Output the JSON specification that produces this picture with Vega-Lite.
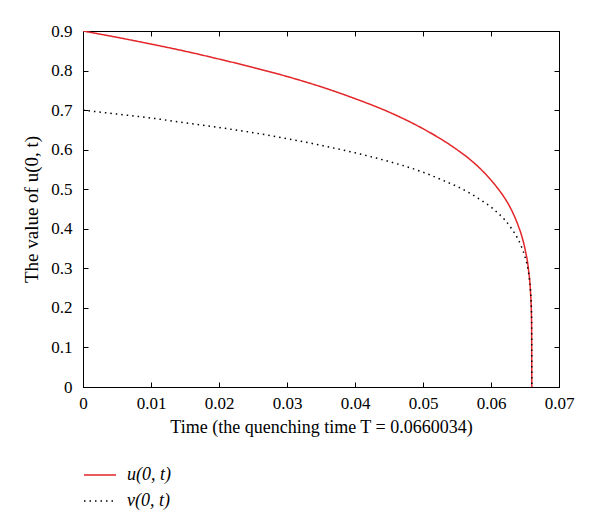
{
  "$schema": "https://vega.github.io/schema/vega-lite/v6.json",
  "width": 476,
  "height": 356,
  "autosize": "none",
  "padding": {"left": 83, "top": 31, "right": 41, "bottom": 141},
  "background": "white",
  "config": {
    "font": "Liberation Serif",
    "view": {"stroke": "black", "strokeWidth": 1},
    "axis": {"grid": false, "labelFont": "Liberation Serif", "titleFont": "Liberation Serif", "labelFontSize": 17, "titleFontSize": 18, "titleFontWeight": "normal", "labelColor": "black", "titleColor": "black", "tickColor": "black", "domainColor": "black", "tickSize": -5, "tickWidth": 1, "labelFlush": false, "labelOverlap": false}
  },
  "data": {"values": [
    {"t": 0, "value": 0.9, "series": "u(0, t)"},
    {"t": 0.005, "value": 0.884, "series": "u(0, t)"},
    {"t": 0.01, "value": 0.867, "series": "u(0, t)"},
    {"t": 0.015, "value": 0.849, "series": "u(0, t)"},
    {"t": 0.02, "value": 0.829, "series": "u(0, t)"},
    {"t": 0.025, "value": 0.808, "series": "u(0, t)"},
    {"t": 0.03, "value": 0.785, "series": "u(0, t)"},
    {"t": 0.035, "value": 0.759, "series": "u(0, t)"},
    {"t": 0.04, "value": 0.729, "series": "u(0, t)"},
    {"t": 0.045, "value": 0.695, "series": "u(0, t)"},
    {"t": 0.05, "value": 0.653, "series": "u(0, t)"},
    {"t": 0.053, "value": 0.623, "series": "u(0, t)"},
    {"t": 0.055, "value": 0.6, "series": "u(0, t)"},
    {"t": 0.057, "value": 0.574, "series": "u(0, t)"},
    {"t": 0.059, "value": 0.542, "series": "u(0, t)"},
    {"t": 0.06, "value": 0.523, "series": "u(0, t)"},
    {"t": 0.061, "value": 0.502, "series": "u(0, t)"},
    {"t": 0.062, "value": 0.478, "series": "u(0, t)"},
    {"t": 0.063, "value": 0.448, "series": "u(0, t)"},
    {"t": 0.064, "value": 0.408, "series": "u(0, t)"},
    {"t": 0.0645, "value": 0.383, "series": "u(0, t)"},
    {"t": 0.065, "value": 0.349, "series": "u(0, t)"},
    {"t": 0.0655, "value": 0.299, "series": "u(0, t)"},
    {"t": 0.0658, "value": 0.243, "series": "u(0, t)"},
    {"t": 0.0659, "value": 0.208, "series": "u(0, t)"},
    {"t": 0.06597, "value": 0.158, "series": "u(0, t)"},
    {"t": 0.066, "value": 0.0, "series": "u(0, t)"},
    {"t": 0, "value": 0.7, "series": "v(0, t)"},
    {"t": 0.005, "value": 0.69, "series": "v(0, t)"},
    {"t": 0.01, "value": 0.68, "series": "v(0, t)"},
    {"t": 0.015, "value": 0.668, "series": "v(0, t)"},
    {"t": 0.02, "value": 0.656, "series": "v(0, t)"},
    {"t": 0.025, "value": 0.643, "series": "v(0, t)"},
    {"t": 0.03, "value": 0.628, "series": "v(0, t)"},
    {"t": 0.035, "value": 0.611, "series": "v(0, t)"},
    {"t": 0.04, "value": 0.592, "series": "v(0, t)"},
    {"t": 0.045, "value": 0.57, "series": "v(0, t)"},
    {"t": 0.05, "value": 0.543, "series": "v(0, t)"},
    {"t": 0.053, "value": 0.522, "series": "v(0, t)"},
    {"t": 0.055, "value": 0.507, "series": "v(0, t)"},
    {"t": 0.057, "value": 0.489, "series": "v(0, t)"},
    {"t": 0.059, "value": 0.467, "series": "v(0, t)"},
    {"t": 0.06, "value": 0.455, "series": "v(0, t)"},
    {"t": 0.061, "value": 0.44, "series": "v(0, t)"},
    {"t": 0.062, "value": 0.423, "series": "v(0, t)"},
    {"t": 0.063, "value": 0.401, "series": "v(0, t)"},
    {"t": 0.064, "value": 0.373, "series": "v(0, t)"},
    {"t": 0.0645, "value": 0.354, "series": "v(0, t)"},
    {"t": 0.065, "value": 0.329, "series": "v(0, t)"},
    {"t": 0.0655, "value": 0.291, "series": "v(0, t)"},
    {"t": 0.0658, "value": 0.246, "series": "v(0, t)"},
    {"t": 0.0659, "value": 0.218, "series": "v(0, t)"},
    {"t": 0.06597, "value": 0.175, "series": "v(0, t)"},
    {"t": 0.066, "value": 0.0, "series": "v(0, t)"}
  ]},
  "layer": [
    {
      "mark": {"type": "line", "strokeWidth": 1.5, "clip": true, "interpolate": "monotone"},
      "encoding": {
        "x": {"field": "t", "type": "quantitative", "scale": {"domain": [0, 0.07], "nice": false},
              "axis": {"orient": "bottom", "values": [0, 0.01, 0.02, 0.03, 0.04, 0.05, 0.06, 0.07], "format": "~g", "title": "Time (the quenching time T = 0.0660034)", "labelPadding": 13, "titlePadding": 7}},
        "y": {"field": "value", "type": "quantitative", "scale": {"domain": [0, 0.9], "nice": false},
              "axis": {"orient": "left", "values": [0, 0.1, 0.2, 0.3, 0.4, 0.5, 0.6, 0.7, 0.8, 0.9], "format": "~g", "title": "The value of u(0, t)", "titleFontSize": 19, "labelPadding": 16, "titlePadding": 9}},
        "color": {"field": "series", "type": "nominal", "scale": {"domain": ["u(0, t)", "v(0, t)"], "range": ["#e3262a", "#000000"]},
                  "legend": {"title": null, "orient": "none", "legendX": 0, "legendY": 427, "direction": "vertical", "symbolType": "stroke", "symbolSize": 1024, "symbolStrokeWidth": 1.5, "labelFont": "Liberation Serif", "labelFontSize": 18, "labelFontStyle": "italic", "labelColor": "black", "labelOffset": 10, "rowPadding": -8, "padding": 0}},
        "strokeDash": {"field": "series", "type": "nominal", "scale": {"domain": ["u(0, t)", "v(0, t)"], "range": [[1, 0], [1.5, 4]]}, "legend": {"title": null, "orient": "none", "legendX": 0, "legendY": 427}}
      }
    },
    {
      "mark": {"type": "line", "opacity": 0},
      "encoding": {
        "x": {"field": "t", "type": "quantitative", "axis": {"orient": "top", "values": [0, 0.01, 0.02, 0.03, 0.04, 0.05, 0.06, 0.07], "labels": false, "title": null}},
        "y": {"field": "value", "type": "quantitative", "axis": {"orient": "right", "values": [0, 0.1, 0.2, 0.3, 0.4, 0.5, 0.6, 0.7, 0.8, 0.9], "labels": false, "title": null}}
      }
    }
  ],
  "resolve": {"axis": {"x": "independent", "y": "independent"}}
}
